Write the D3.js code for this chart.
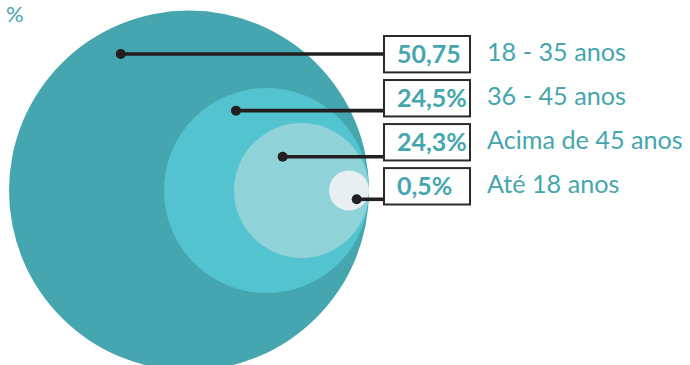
<!DOCTYPE html>
<html>
<head>
<meta charset="utf-8">
<script src="https://cdn.jsdelivr.net/npm/d3@7"></script>
<style>
  html, body { margin: 0; padding: 0; background: #ffffff; }
  svg { display: block; }
</style>
</head>
<body>
<svg id="chart" width="690" height="365"></svg>
<script>
// Age groups, in the order they are listed on the right
const categories = ["18 - 35 anos", "36 - 45 anos", "Acima de 45 anos", "Até 18 anos"];
const values = [50.75, 24.5, 24.3, 0.5];
const valueLabels = ["50,75", "24,5%", "24,3%", "0,5%"];
const unitLabel = "%";

const W = 690, H = 365;
const svg = d3.select("#chart");

const teal = "#46a6ae";
const fills = d3.scaleOrdinal(categories, ["#46a6af", "#53c4cf", "#8fd2d8", "#e7eff0"]);
const ink = "#231f20";

// Nested circles: each one holds its own group plus every group listed after it
const cumulative = values.map((v, i) => d3.sum(values.slice(i)));
const rScale = d3.scaleSqrt()
  .domain(cumulative.slice().reverse())
  .range([20, 67.5, 102.5, 180]);

// All circles touch on the right-hand side
const rightEdge = 369, cy = 190.5;
const circles = categories.map((c, i) => {
  const r = rScale(cumulative[i]);
  return { cat: c, r, cx: rightEdge - r, cy };
});

// Leader anchors, as fractions of each circle's radius from its centre
const anchor = [
  { fx: -0.379, fy: -0.758 },
  { fx: -0.298, fy: -0.779 },
  { fx: -0.279, fy: -0.501 },
  { fx: 0.385, fy: 0.44 }
];

svg.append("g").selectAll("circle")
  .data(circles)
  .join("circle")
  .attr("cx", d => d.cx)
  .attr("cy", d => d.cy)
  .attr("r", d => d.r)
  .attr("fill", d => fills(d.cat));

// Label rows
const rowScale = d3.scaleBand()
  .domain(categories)
  .range([35, 205.5])
  .paddingInner(0.128);

const boxX = 383, boxW = 88;

const leaders = circles.map((d, i) => ({
  x: d.cx + anchor[i].fx * d.r,
  y: d.cy + anchor[i].fy * d.r
}));

const gLead = svg.append("g");
gLead.selectAll("line")
  .data(leaders)
  .join("line")
  .attr("x1", d => d.x)
  .attr("x2", boxX)
  .attr("y1", d => d.y)
  .attr("y2", d => d.y)
  .attr("stroke", ink)
  .attr("stroke-width", 3.6);
gLead.selectAll("circle")
  .data(leaders)
  .join("circle")
  .attr("cx", d => d.x)
  .attr("cy", d => d.y)
  .attr("r", 5)
  .attr("fill", ink);

const rows = svg.append("g").selectAll("g")
  .data(categories)
  .join("g")
  .attr("transform", d => `translate(0,${rowScale(d)})`);

const bw = rowScale.bandwidth();

rows.append("rect")
  .attr("x", boxX + 1)
  .attr("y", 1)
  .attr("width", boxW - 2)
  .attr("height", bw - 2)
  .attr("fill", "#ffffff")
  .attr("stroke", "#2b2b2b")
  .attr("stroke-width", 2);

rows.append("text")
  .attr("x", 397)
  .attr("y", bw / 2 + 8.5)
  .attr("font-family", "Lato, 'Open Sans', sans-serif")
  .attr("font-weight", 700)
  .attr("font-size", 25)
  .attr("fill", teal)
  .text((d, i) => valueLabels[i]);

rows.append("text")
  .attr("x", 487)
  .attr("y", bw / 2 + 7)
  .attr("font-family", "Lato, 'Open Sans', sans-serif")
  .attr("font-size", 25.2)
  .attr("fill", teal)
  .text(d => d);

// Unit marker in the top-left corner
svg.append("text")
  .attr("x", 6)
  .attr("y", 22)
  .attr("font-family", "Lato, 'Open Sans', sans-serif")
  .attr("font-size", 22)
  .attr("fill", teal)
  .text(unitLabel);
</script>
</body>
</html>
